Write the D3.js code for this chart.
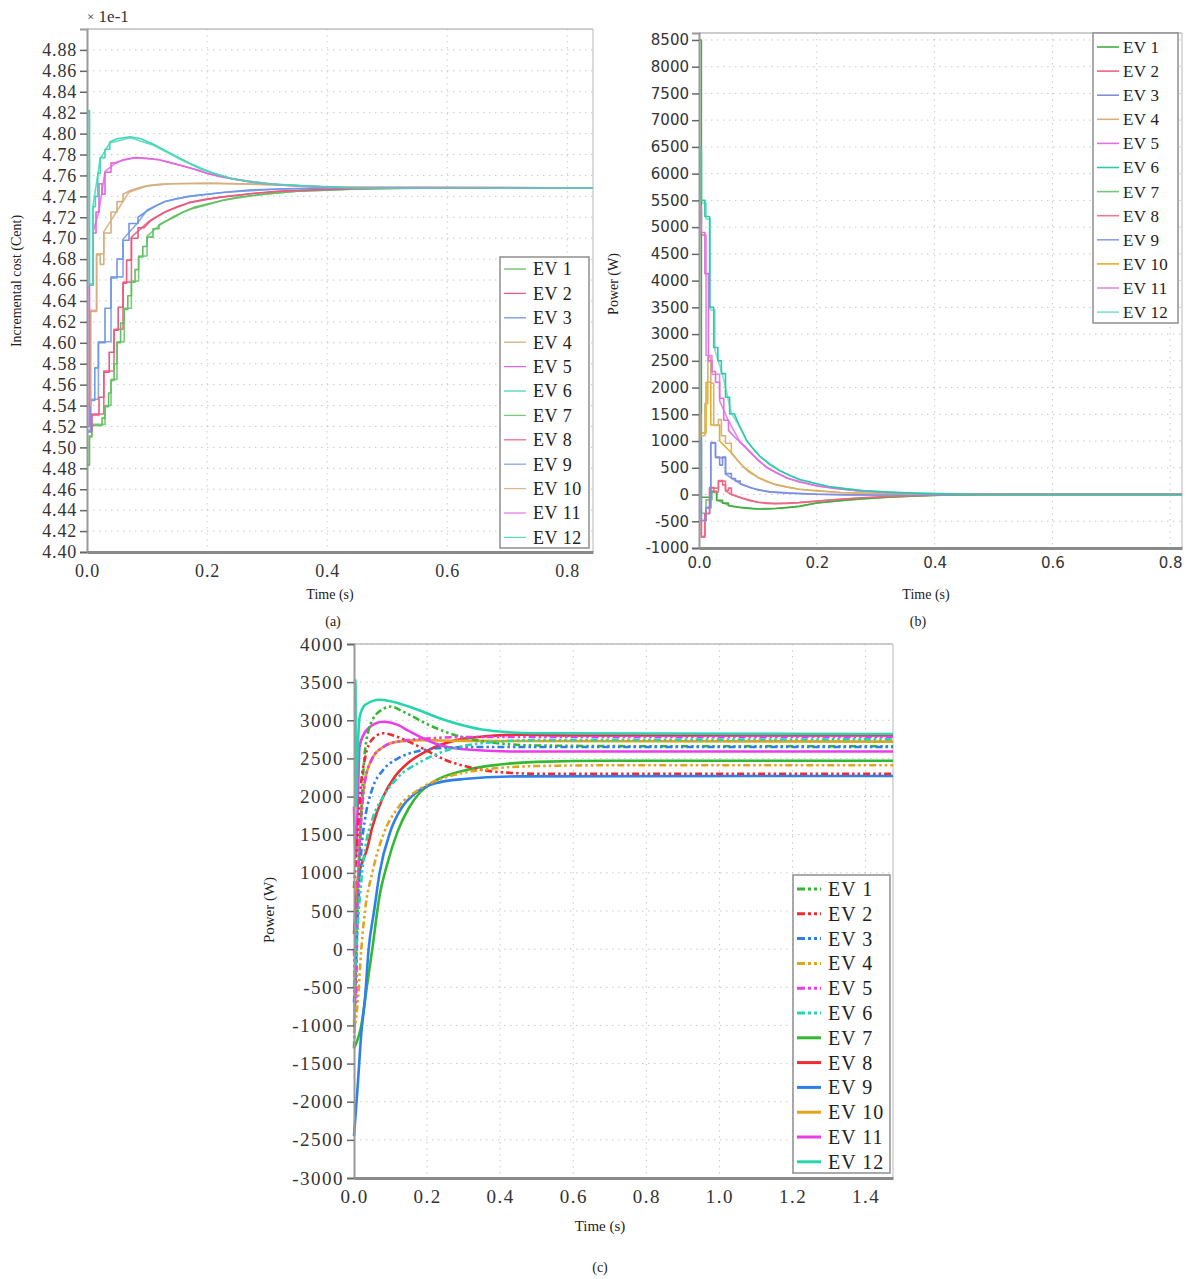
<!DOCTYPE html>
<html><head><meta charset="utf-8">
<script src="https://cdn.jsdelivr.net/npm/d3@7"></script>
<style>body{margin:0;background:#fff}svg{display:block}</style>
</head><body><svg id="c" width="1192" height="1279"></svg>
<script>
// ---------- labels ----------
const evNames = ["EV 1","EV 2","EV 3","EV 4","EV 5","EV 6","EV 7","EV 8","EV 9","EV 10","EV 11","EV 12"];
const costTicks = [4.40,4.42,4.44,4.46,4.48,4.50,4.52,4.54,4.56,4.58,4.60,4.62,4.64,4.66,4.68,4.70,4.72,4.74,4.76,4.78,4.80,4.82,4.84,4.86,4.88];
const timeTicksAB = [0,0.2,0.4,0.6,0.8];
const powerTicksB = [-1000,-500,0,500,1000,1500,2000,2500,3000,3500,4000,4500,5000,5500,6000,6500,7000,7500,8000,8500];
const timeTicksC = [0,0.2,0.4,0.6,0.8,1.0,1.2,1.4];
const powerTicksC = [-3000,-2500,-2000,-1500,-1000,-500,0,500,1000,1500,2000,2500,3000,3500,4000];

// ---------- (a) incremental cost (x 1e-1 Cent), [time s, value] ----------
const costEV1 = [[0,4.483],[0.004,4.483],[0.004,4.51],[0.008,4.51],[0.008,4.521],[0.025,4.521],[0.025,4.528],[0.03,4.528],[0.03,4.539],[0.036,4.539],[0.036,4.552],[0.04,4.552],[0.04,4.564],[0.045,4.564],[0.045,4.58],[0.05,4.58],[0.05,4.60],[0.056,4.60],[0.056,4.619],[0.062,4.619],[0.062,4.632],[0.068,4.632],[0.068,4.645],[0.074,4.645],[0.074,4.658],[0.08,4.658],[0.08,4.670],[0.086,4.670],[0.086,4.682],[0.093,4.682],[0.093,4.692],[0.1,4.692],[0.1,4.701],[0.11,4.701],[0.11,4.709],[0.12,4.709],[0.12,4.713],[0.13,4.716],[0.145,4.72],[0.16,4.725],[0.18,4.729],[0.2,4.732],[0.225,4.736],[0.25,4.739],[0.28,4.741],[0.31,4.743],[0.35,4.745],[0.4,4.746],[0.45,4.747],[0.55,4.748],[0.843,4.748]];
const costEV2 = [[0,4.515],[0.008,4.515],[0.008,4.531],[0.02,4.531],[0.02,4.548],[0.028,4.548],[0.028,4.572],[0.037,4.572],[0.037,4.591],[0.045,4.591],[0.045,4.612],[0.052,4.612],[0.052,4.634],[0.06,4.634],[0.06,4.657],[0.066,4.657],[0.066,4.679],[0.074,4.679],[0.074,4.70],[0.085,4.70],[0.085,4.71],[0.095,4.71],[0.105,4.716],[0.115,4.72],[0.13,4.725],[0.15,4.73],[0.17,4.734],[0.195,4.737],[0.22,4.739],[0.25,4.741],[0.28,4.743],[0.32,4.745],[0.37,4.746],[0.42,4.747],[0.5,4.748],[0.843,4.748]];
const costEV3 = [[0,4.515],[0.006,4.515],[0.006,4.545],[0.013,4.545],[0.013,4.576],[0.019,4.576],[0.019,4.60],[0.03,4.60],[0.03,4.633],[0.04,4.633],[0.04,4.662],[0.05,4.662],[0.05,4.68],[0.06,4.68],[0.06,4.698],[0.07,4.698],[0.07,4.714],[0.085,4.714],[0.085,4.72],[0.1,4.726],[0.115,4.731],[0.13,4.735],[0.15,4.738],[0.17,4.74],[0.2,4.742],[0.23,4.744],[0.27,4.746],[0.32,4.747],[0.4,4.748],[0.843,4.748]];
const costEV4 = [[0,4.54],[0.006,4.54],[0.006,4.63],[0.016,4.63],[0.016,4.684],[0.022,4.684],[0.022,4.675],[0.028,4.675],[0.028,4.705],[0.04,4.705],[0.04,4.725],[0.05,4.725],[0.05,4.735],[0.06,4.735],[0.06,4.742],[0.07,4.745],[0.085,4.748],[0.1,4.75],[0.12,4.7515],[0.14,4.752],[0.2,4.7525],[0.26,4.752],[0.32,4.751],[0.4,4.749],[0.5,4.748],[0.843,4.748]];
const costEV5 = [[0,4.52],[0.004,4.52],[0.004,4.655],[0.01,4.655],[0.01,4.705],[0.015,4.705],[0.015,4.725],[0.02,4.725],[0.02,4.752],[0.025,4.752],[0.025,4.742],[0.03,4.742],[0.03,4.763],[0.04,4.763],[0.04,4.772],[0.05,4.772],[0.06,4.775],[0.08,4.777],[0.1,4.7765],[0.12,4.775],[0.14,4.772],[0.16,4.769],[0.18,4.766],[0.2,4.762],[0.22,4.759],[0.25,4.756],[0.28,4.753],[0.32,4.751],[0.38,4.749],[0.45,4.748],[0.843,4.748]];
const costEV6 = [[0,4.822],[0.004,4.822],[0.004,4.655],[0.01,4.655],[0.01,4.73],[0.014,4.73],[0.014,4.74],[0.018,4.74],[0.018,4.762],[0.022,4.762],[0.022,4.777],[0.03,4.777],[0.03,4.785],[0.038,4.785],[0.038,4.792],[0.05,4.795],[0.072,4.797],[0.09,4.795],[0.11,4.79],[0.13,4.784],[0.15,4.778],[0.17,4.772],[0.19,4.767],[0.21,4.762],[0.24,4.757],[0.27,4.754],[0.3,4.752],[0.36,4.75],[0.45,4.748],[0.843,4.748]];
const costEV7 = [[0,4.484],[0.004,4.484],[0.004,4.511],[0.008,4.511],[0.008,4.522],[0.03,4.522],[0.03,4.54],[0.04,4.54],[0.04,4.565],[0.05,4.565],[0.05,4.601],[0.062,4.601],[0.062,4.633],[0.074,4.633],[0.074,4.659],[0.086,4.659],[0.086,4.683],[0.1,4.683],[0.1,4.702],[0.12,4.712],[0.145,4.721],[0.18,4.73],[0.225,4.736],[0.28,4.741],[0.35,4.745],[0.45,4.747],[0.6,4.748],[0.843,4.748]];
const costEV8 = [[0,4.516],[0.008,4.516],[0.008,4.532],[0.028,4.532],[0.028,4.573],[0.045,4.573],[0.045,4.613],[0.06,4.613],[0.06,4.658],[0.074,4.658],[0.074,4.701],[0.105,4.717],[0.13,4.725],[0.17,4.734],[0.22,4.739],[0.28,4.743],[0.37,4.746],[0.5,4.748],[0.843,4.748]];
const costEV9 = [[0,4.516],[0.006,4.516],[0.006,4.546],[0.019,4.546],[0.019,4.601],[0.04,4.601],[0.04,4.663],[0.06,4.663],[0.06,4.699],[0.085,4.715],[0.1,4.727],[0.13,4.735],[0.17,4.74],[0.23,4.744],[0.32,4.747],[0.4,4.748],[0.843,4.748]];
const costEV10 = [[0,4.541],[0.006,4.541],[0.006,4.631],[0.016,4.631],[0.016,4.685],[0.028,4.685],[0.028,4.706],[0.05,4.726],[0.07,4.744],[0.1,4.75],[0.14,4.752],[0.2,4.7525],[0.32,4.751],[0.4,4.749],[0.843,4.748]];
const costEV11 = [[0,4.521],[0.004,4.521],[0.004,4.656],[0.01,4.656],[0.01,4.706],[0.02,4.726],[0.03,4.764],[0.05,4.773],[0.08,4.777],[0.12,4.775],[0.16,4.769],[0.2,4.762],[0.25,4.756],[0.32,4.751],[0.4,4.749],[0.843,4.748]];
const costEV12 = [[0,4.821],[0.004,4.821],[0.004,4.656],[0.01,4.656],[0.01,4.731],[0.022,4.776],[0.038,4.791],[0.072,4.796],[0.11,4.789],[0.15,4.777],[0.19,4.766],[0.24,4.757],[0.3,4.752],[0.36,4.75],[0.45,4.748],[0.843,4.748]];

// ---------- (b) power (W), [time s, value] ----------
const powB_EV1 = [[0,8500],[0.004,8500],[0.004,-50],[0.02,-50],[0.02,60],[0.03,60],[0.03,-110],[0.04,-110],[0.04,-160],[0.05,-160],[0.05,-210],[0.06,-228],[0.07,-242],[0.08,-255],[0.09,-264],[0.1,-270],[0.115,-270],[0.13,-262],[0.15,-245],[0.17,-222],[0.2,-160],[0.23,-125],[0.27,-85],[0.32,-48],[0.38,-20],[0.45,-5],[0.5,0],[0.82,0]];
const powB_EV2 = [[0,-490],[0.004,-490],[0.004,-800],[0.01,-800],[0.01,-360],[0.018,-360],[0.018,130],[0.025,130],[0.025,50],[0.033,50],[0.033,260],[0.04,260],[0.04,180],[0.045,180],[0.045,75],[0.05,75],[0.05,120],[0.055,120],[0.055,0],[0.065,-35],[0.075,-75],[0.085,-110],[0.1,-145],[0.115,-165],[0.13,-170],[0.15,-165],[0.17,-152],[0.2,-125],[0.23,-98],[0.27,-66],[0.32,-38],[0.38,-16],[0.45,-5],[0.5,0],[0.82,0]];
const powB_EV3 = [[0,1010],[0.004,1010],[0.004,-490],[0.012,-490],[0.012,-250],[0.02,-250],[0.02,970],[0.028,970],[0.028,700],[0.035,700],[0.035,550],[0.04,550],[0.04,700],[0.045,700],[0.045,390],[0.055,390],[0.055,300],[0.062,300],[0.062,250],[0.07,250],[0.07,200],[0.08,160],[0.09,120],[0.1,85],[0.12,50],[0.15,25],[0.2,5],[0.25,-6],[0.3,-10],[0.4,-6],[0.5,0],[0.82,0]];
const powB_EV4 = [[0,1500],[0.003,1500],[0.003,1100],[0.01,1100],[0.01,1700],[0.015,1700],[0.015,2570],[0.02,2570],[0.02,2080],[0.025,2080],[0.025,1290],[0.033,1290],[0.033,1400],[0.038,1400],[0.038,1100],[0.045,1100],[0.045,960],[0.055,960],[0.055,770],[0.065,640],[0.075,520],[0.085,420],[0.1,320],[0.115,240],[0.13,185],[0.15,135],[0.17,100],[0.2,65],[0.24,38],[0.3,18],[0.38,5],[0.45,0],[0.82,0]];
const powB_EV5 = [[0,5380],[0.004,5380],[0.004,4900],[0.01,4900],[0.01,4130],[0.016,4130],[0.016,2500],[0.022,2500],[0.022,2300],[0.028,2300],[0.028,2100],[0.035,2100],[0.035,1800],[0.042,1800],[0.042,1390],[0.05,1390],[0.05,1200],[0.06,1080],[0.07,980],[0.08,880],[0.09,760],[0.1,640],[0.115,510],[0.13,410],[0.15,310],[0.17,235],[0.2,165],[0.23,115],[0.27,70],[0.32,38],[0.38,15],[0.45,4],[0.5,0],[0.82,0]];
const powB_EV6 = [[0,6500],[0.004,6500],[0.004,5500],[0.01,5500],[0.01,5200],[0.018,5200],[0.018,3500],[0.025,3500],[0.025,2750],[0.032,2750],[0.032,2500],[0.038,2500],[0.038,2260],[0.045,2260],[0.045,1820],[0.052,1820],[0.052,1510],[0.06,1510],[0.068,1300],[0.075,1150],[0.081,1010],[0.09,880],[0.103,720],[0.12,560],[0.137,450],[0.155,350],[0.171,280],[0.2,200],[0.22,150],[0.25,105],[0.28,70],[0.32,45],[0.37,22],[0.43,8],[0.5,0],[0.82,0]];
const powB_EV7 = [[0,-300],[0.004,-300],[0.004,-350],[0.012,-350],[0.012,-100],[0.022,-100],[0.022,40],[0.03,40],[0.03,-100],[0.05,-200],[0.07,-240],[0.1,-266],[0.13,-260],[0.17,-220],[0.2,-160],[0.25,-105],[0.32,-48],[0.4,-15],[0.5,0],[0.82,0]];
const powB_EV8 = [[0,-500],[0.004,-500],[0.004,-780],[0.01,-780],[0.01,-350],[0.018,-350],[0.018,120],[0.033,120],[0.033,250],[0.045,250],[0.045,70],[0.055,0],[0.075,-72],[0.1,-145],[0.13,-168],[0.17,-150],[0.22,-105],[0.28,-60],[0.35,-22],[0.45,-5],[0.5,0],[0.82,0]];
const powB_EV9 = [[0,1000],[0.004,1000],[0.004,-480],[0.012,-480],[0.012,-240],[0.02,-240],[0.02,960],[0.028,960],[0.028,690],[0.045,690],[0.045,380],[0.07,200],[0.09,118],[0.12,50],[0.2,5],[0.3,-10],[0.5,0],[0.82,0]];
const powB_EV10 = [[0,1450],[0.003,1450],[0.003,1150],[0.012,1150],[0.012,2100],[0.02,2100],[0.02,1300],[0.035,1300],[0.035,1000],[0.055,780],[0.075,520],[0.1,320],[0.13,185],[0.17,100],[0.24,38],[0.3,18],[0.45,0],[0.82,0]];
const powB_EV11 = [[0,5300],[0.004,5300],[0.004,4850],[0.012,4850],[0.012,2600],[0.022,2600],[0.022,2250],[0.035,2250],[0.035,1750],[0.05,1380],[0.07,975],[0.09,755],[0.115,505],[0.15,305],[0.2,162],[0.27,68],[0.35,20],[0.5,0],[0.82,0]];
const powB_EV12 = [[0,6400],[0.004,6400],[0.004,5450],[0.012,5450],[0.012,5150],[0.019,5150],[0.019,3450],[0.027,3450],[0.027,2700],[0.04,2240],[0.055,1520],[0.068,1290],[0.081,1000],[0.103,715],[0.137,445],[0.171,275],[0.22,148],[0.28,68],[0.35,30],[0.5,0],[0.82,0]];

// ---------- (c) power (W), [time s, value] ----------
const powC_EV1 = [[0,-1300],[0.01,500],[0.02,1800],[0.03,2600],[0.05,3000],[0.08,3150],[0.1,3180],[0.14,3100],[0.2,2950],[0.28,2800],[0.36,2720],[0.5,2670],[0.8,2660],[1.475,2660]];
const powC_EV2 = [[0,800],[0.01,1500],[0.02,2200],[0.03,2500],[0.05,2750],[0.08,2830],[0.12,2780],[0.18,2650],[0.25,2480],[0.32,2380],[0.4,2320],[0.5,2300],[1.475,2300]];
const powC_EV3 = [[0,-700],[0.01,400],[0.02,1300],[0.03,1700],[0.05,2100],[0.08,2350],[0.12,2500],[0.18,2600],[0.25,2640],[0.35,2650],[0.5,2650],[1.475,2650]];
const powC_EV4 = [[0,-1100],[0.01,-700],[0.02,0],[0.03,500],[0.05,1000],[0.08,1500],[0.12,1850],[0.18,2100],[0.25,2250],[0.35,2350],[0.5,2400],[0.7,2410],[1.475,2410]];
const powC_EV5 = [[0,0],[0.005,-700],[0.01,700],[0.02,1700],[0.03,2200],[0.05,2500],[0.08,2650],[0.12,2720],[0.2,2760],[0.3,2780],[1.475,2780]];
const powC_EV6 = [[0,-500],[0.01,300],[0.02,900],[0.03,1300],[0.05,1700],[0.08,2000],[0.12,2250],[0.18,2450],[0.25,2600],[0.35,2700],[0.5,2740],[1.475,2750]];
const powC_EV7 = [[0,-1300],[0.02,-1000],[0.035,-500],[0.05,0],[0.07,700],[0.09,1100],[0.12,1550],[0.15,1850],[0.18,2050],[0.22,2200],[0.3,2340],[0.4,2420],[0.5,2455],[0.7,2470],[1.475,2470]];
const powC_EV8 = [[0,200],[0.01,900],[0.02,1100],[0.035,1300],[0.05,1600],[0.08,2000],[0.11,2250],[0.15,2450],[0.2,2600],[0.28,2740],[0.36,2790],[0.45,2810],[0.6,2800],[1.475,2800]];
const powC_EV9 = [[0,-2450],[0.01,-1800],[0.02,-1100],[0.03,-650],[0.04,0],[0.055,500],[0.07,1000],[0.1,1550],[0.13,1850],[0.17,2050],[0.22,2170],[0.3,2230],[0.45,2265],[1.475,2270]];
const powC_EV10 = [[0,-1000],[0.01,800],[0.02,1800],[0.03,2200],[0.05,2500],[0.08,2650],[0.12,2720],[0.18,2740],[0.3,2730],[1.475,2720]];
const powC_EV11 = [[0,1870],[0.005,1200],[0.01,1850],[0.015,2650],[0.025,2800],[0.04,2900],[0.08,2980],[0.12,2940],[0.15,2860],[0.22,2700],[0.3,2620],[0.45,2590],[1.475,2590]];
const powC_EV12 = [[0,3530],[0.004,3530],[0.005,1870],[0.01,2600],[0.015,3030],[0.03,3200],[0.07,3270],[0.1,3250],[0.15,3180],[0.25,3000],[0.35,2880],[0.5,2830],[1.475,2820]];

const seriesA = [costEV1,costEV2,costEV3,costEV4,costEV5,costEV6,costEV7,costEV8,costEV9,costEV10,costEV11,costEV12];
const seriesB = [powB_EV1,powB_EV2,powB_EV3,powB_EV4,powB_EV5,powB_EV6,powB_EV7,powB_EV8,powB_EV9,powB_EV10,powB_EV11,powB_EV12];
const seriesC = [powC_EV1,powC_EV2,powC_EV3,powC_EV4,powC_EV5,powC_EV6,powC_EV7,powC_EV8,powC_EV9,powC_EV10,powC_EV11,powC_EV12];

// ---------- styling ----------
const colorsA = ["#62c062","#ea5a80","#6f98e6","#d6ae80","#e266e2","#45d6b6","#7acc7a","#ee6d8a","#86a8ea","#dcb88c","#e680e6","#5fdcc0"];
const colorsB = ["#3fae3f","#ee6585","#7f8fe0","#d8b07a","#e36ee3","#2fc9a8","#78c478","#f07890","#8ea0e6","#e0b020","#e488e4","#7fe0cc"];
const colorsC = ["#33b833","#ee2b30","#2f7fe8","#e2a41c","#ea3cea","#26d4ae","#33b833","#ee2b30","#2f7fe8","#e2a41c","#ea3cea","#26d4ae"];
const serif = "'Liberation Serif','Times New Roman',serif";
const sans = "'DejaVu Sans','Liberation Sans',sans-serif";
const plainInt = d => String(d);

const svg = d3.select("#c");

function panel(cfg){
  const g = svg.append("g");
  const x = d3.scaleLinear().domain(cfg.xDomain).range([cfg.left, cfg.right]);
  const y = d3.scaleLinear().domain(cfg.yDomain).range([cfg.bottom, cfg.top]);
  g.append("g").selectAll("line").data(cfg.yTicks).join("line")
    .attr("x1",cfg.left).attr("x2",cfg.right).attr("y1",d=>y(d)).attr("y2",d=>y(d))
    .attr("stroke","#c8c8c8").attr("stroke-width",1).attr("stroke-dasharray","1.5,4.5");
  g.append("g").selectAll("line").data(cfg.xTicks.filter(d=>d>0)).join("line")
    .attr("x1",d=>x(d)).attr("x2",d=>x(d)).attr("y1",cfg.top).attr("y2",cfg.bottom)
    .attr("stroke","#c8c8c8").attr("stroke-width",1).attr("stroke-dasharray","1.5,4.5");
  g.append("line").attr("x1",cfg.left).attr("x2",cfg.right).attr("y1",cfg.top).attr("y2",cfg.top).attr("stroke","#bdbdbd").attr("stroke-width",1.5);
  g.append("line").attr("x1",cfg.right).attr("x2",cfg.right).attr("y1",cfg.top).attr("y2",cfg.bottom).attr("stroke","#cfcfcf").attr("stroke-width",1.5);
  const line = d3.line().x(d=>x(d[0])).y(d=>y(d[1])).curve(cfg.curve||d3.curveLinear);
  const lg = g.append("g");
  cfg.drawOrder.forEach(i=>{
    lg.append("path").datum(cfg.series[i]).attr("d",line).attr("fill","none")
      .attr("stroke",cfg.colors[i]).attr("stroke-width",cfg.lw)
      .attr("stroke-dasharray",cfg.dash?cfg.dash(i):null)
      .attr("stroke-linejoin","round");
  });
  const ya = d3.axisLeft(y).tickValues(cfg.yTicks).tickFormat(cfg.yFmt).tickSize(7).tickPadding(3);
  const yg = g.append("g").attr("transform",`translate(${cfg.left},0)`).call(ya);
  yg.select(".domain").attr("stroke","#9a9a9a").attr("stroke-width",2);
  yg.selectAll(".tick line").attr("stroke","#666").attr("stroke-width",1.5);
  yg.selectAll("text").attr("font-family",cfg.tickFont).attr("font-size",cfg.tickSize).attr("fill","#333").attr("letter-spacing",cfg.tickLS||0);
  const xa = d3.axisBottom(x).tickValues(cfg.xTicks).tickFormat(d3.format(".1f")).tickSize(0).tickPadding(cfg.xPad);
  const xg = g.append("g").attr("transform",`translate(0,${cfg.bottom})`).call(xa);
  xg.select(".domain").attr("stroke","#8a8a8a").attr("stroke-width",3);
  xg.selectAll("text").attr("font-family",cfg.tickFont).attr("font-size",cfg.tickSize).attr("fill","#333").attr("letter-spacing",cfg.tickLS||0);
  g.append("text").attr("x",cfg.xTitle[0]).attr("y",cfg.xTitle[1]).attr("text-anchor","middle")
    .attr("font-family",serif).attr("font-size",cfg.titleSize).attr("fill","#222").text("Time (s)");
  g.append("text").attr("transform",`translate(${cfg.yTitle[0]},${cfg.yTitle[1]}) rotate(-90)`).attr("text-anchor","middle")
    .attr("font-family",serif).attr("font-size",cfg.titleSize).attr("fill","#222").text(cfg.yLabel);
  g.append("text").attr("x",cfg.tag[0]).attr("y",cfg.tag[1]).attr("text-anchor","middle")
    .attr("font-family",serif).attr("font-size",14).attr("fill","#222").text(cfg.tagText);
  const L = cfg.legend;
  g.append("rect").attr("x",L.x).attr("y",L.y).attr("width",L.w).attr("height",L.h)
    .attr("fill","#fff").attr("stroke","#8f8f8f").attr("stroke-width",1.5);
  evNames.forEach((n,i)=>{
    const cy = L.y0 + i*L.dy;
    g.append("line").attr("x1",L.x+4).attr("x2",L.x+4+L.sw).attr("y1",cy).attr("y2",cy)
      .attr("stroke",cfg.colors[i]).attr("stroke-width",cfg.legLW)
      .attr("stroke-dasharray",cfg.legDash?cfg.legDash(i):null);
    g.append("text").attr("x",L.x+L.tx).attr("y",cy).attr("dy","0.35em")
      .attr("font-family",serif).attr("font-size",L.fs).attr("fill","#222").attr("letter-spacing",L.ls||0).text(n);
  });
}

// (a)
panel({
  left:87,right:593,top:29,bottom:552,xDomain:[0,0.843],yDomain:[4.40,4.90],
  yTicks:costTicks,xTicks:timeTicksAB,yFmt:d3.format(".2f"),
  series:seriesA,colors:colorsA,lw:1.6,drawOrder:[6,7,8,9,10,11,0,1,2,3,4,5],
  tickFont:serif,tickSize:18,tickLS:0.8,xPad:12,titleSize:14,
  xTitle:[330,599],yTitle:[21,281],yLabel:"Incremental cost (Cent)",tag:[333,626],tagText:"(a)",
  legend:{x:500,y:257,w:89,h:291,y0:269,dy:24.4,sw:22,tx:33,fs:18,ls:0.5},legLW:1.3
});
svg.append("text").attr("x",87).attr("y",22).attr("font-family",serif).attr("font-size",17).attr("fill","#333")
  .html("<tspan font-size='13' dy='-1'>×</tspan><tspan dy='1'> 1e-1</tspan>");

// (b)
panel({
  left:699,right:1182,top:33,bottom:548,xDomain:[0,0.82],yDomain:[-1000,8630],
  yTicks:powerTicksB,xTicks:timeTicksAB,yFmt:plainInt,
  series:seriesB,colors:colorsB,lw:1.6,drawOrder:[6,7,8,9,10,11,0,1,2,3,4,5],
  tickFont:sans,tickSize:15,tickLS:0,xPad:9,titleSize:14,
  xTitle:[926,599],yTitle:[618,284],yLabel:"Power (W)",tag:[918,626],tagText:"(b)",
  legend:{x:1093,y:33,w:85,h:290,y0:47,dy:24.1,sw:22,tx:30,fs:17,ls:0.3},legLW:1.6
});

// (c)
panel({
  left:354,right:893,top:644,bottom:1178,xDomain:[0,1.475],yDomain:[-3000,4000],
  yTicks:powerTicksC,xTicks:timeTicksC,yFmt:plainInt,
  series:seriesC,colors:colorsC,lw:2.6,drawOrder:[6,7,8,9,10,11,0,1,2,3,4,5],
  dash:i=>i<6?"7,3,2.5,3,2.5,3":null,curve:d3.curveMonotoneX,
  tickFont:serif,tickSize:19,tickLS:1.5,xPad:12,titleSize:15,
  xTitle:[600,1231],yTitle:[274,910],yLabel:"Power (W)",tag:[600,1272],tagText:"(c)",
  legend:{x:793,y:875,w:97,h:298,y0:889,dy:24.8,sw:24,tx:35,fs:20,ls:1},legLW:3,
  legDash:i=>i<6?"8,3,3,3,3,3":null
});
</script></body></html>
